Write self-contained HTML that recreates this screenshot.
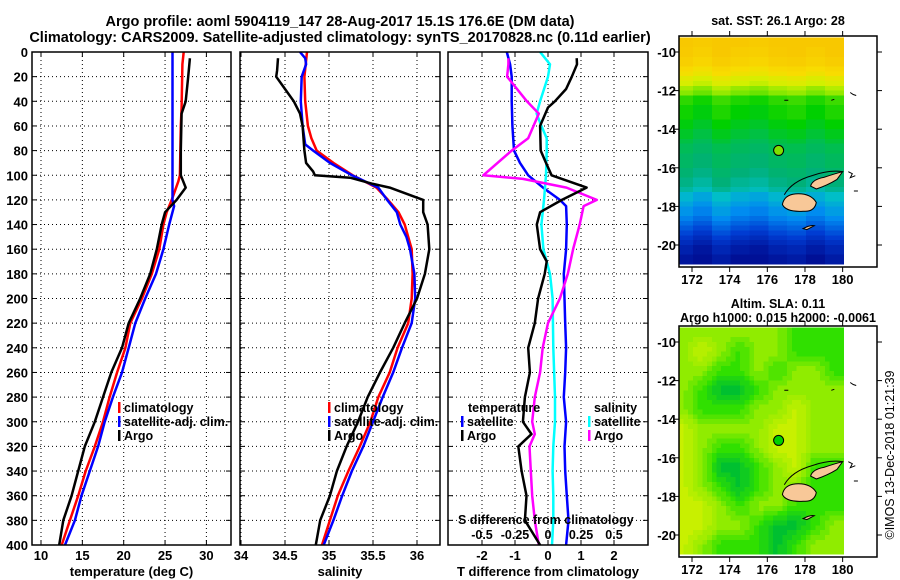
<!DOCTYPE html>
<html><head><meta charset="utf-8">
<style>
html,body{margin:0;padding:0;background:#fff;}
svg{display:block;font-family:"Liberation Sans",sans-serif;font-weight:bold;}
text{fill:#000;}
</style></head>
<body>
<svg id="fig" width="900" height="580" viewBox="0 0 900 580" xmlns="http://www.w3.org/2000/svg">
<text x="340" y="26" font-size="14.5" text-anchor="middle">Argo profile: aoml 5904119_147 28-Aug-2017 15.1S 176.6E (DM data)</text>
<text x="340" y="42" font-size="14.5" text-anchor="middle">Climatology: CARS2009. Satellite-adjusted climatology: synTS_20170828.nc (0.11d earlier)</text>
<g id="g1"></g>
<g id="g2"></g>
<g id="g3"></g>
<g id="m1"></g>
<g id="m2"></g>
<text transform="translate(894,455) rotate(-90)" font-size="12.5" font-weight="normal" text-anchor="middle">©IMOS 13-Dec-2018 01:21:39</text>
</svg>
<script>
// ---- profile data (depth in m) ----
const tempClimDepth = [0,10,45,60,100,105,120,130,140,160,180,200,220,240,260,280,300,320,340,360,380,400];
const tempClim      = [27.25,27.1,27.0,26.9,26.8,26.6,25.8,25.2,24.8,24.3,23.4,22.2,20.8,20.2,19.2,18.3,17.5,16.5,15.4,14.5,13.5,12.5];
const tempSatDepth  = [0,120,125,140,160,180,200,220,240,260,280,300,320,340,360,380,400];
const tempSat       = [25.9,25.9,26.1,25.5,24.8,23.9,22.6,21.4,20.6,19.8,18.7,17.7,16.9,15.9,14.9,14.1,12.9];
const tempArgoDepth = [5,20,40,50,80,100,110,120,130,140,160,180,200,220,240,260,280,300,320,340,360,380,400];
const tempArgo      = [28.0,27.8,27.5,27.0,26.9,26.9,27.5,26.4,25.0,24.6,24.0,23.2,22.0,20.6,19.8,18.5,17.5,16.5,15.3,14.5,13.7,12.7,12.2];

const salClimDepth = [0,20,40,60,70,80,90,100,110,120,130,140,160,180,200,220,240,260,280,300,320,340,360,380,400];
const salClim      = [34.75,34.72,34.73,34.76,34.8,34.86,35.05,35.27,35.54,35.67,35.79,35.86,35.94,35.95,35.94,35.9,35.78,35.69,35.56,35.47,35.35,35.22,35.1,35.01,34.92];
const salSatDepth  = [0,5,10,20,40,60,75,80,90,100,110,120,130,140,150,160,180,200,220,240,260,280,300,320,340,360,380,400];
const salSat       = [34.67,34.73,34.74,34.69,34.68,34.7,34.73,34.82,35.01,35.26,35.56,35.66,35.77,35.81,35.88,35.92,35.97,35.98,35.94,35.83,35.73,35.61,35.5,35.39,35.26,35.15,35.05,34.94];
const salArgoDepth = [5,15,20,30,40,50,60,80,90,97,100,102,107,110,120,130,140,160,180,200,220,240,260,280,300,320,340,360,380,400];
const salArgo      = [34.42,34.41,34.4,34.5,34.6,34.67,34.7,34.72,34.74,34.82,34.84,35.24,35.5,35.69,36.07,36.07,36.12,36.14,36.09,36.0,35.86,35.73,35.58,35.44,35.33,35.2,35.09,35.01,34.9,34.85];

const dTSatDepth  = [0,10,20,40,60,80,90,100,110,120,125,140,160,180,200,220,240,260,280,300,320,340,360,380,400];
const dTSat       = [-1.25,-1.15,-1.1,-1.1,-1.08,-1.03,-0.85,-0.6,-0.15,0.36,0.55,0.57,0.55,0.48,0.5,0.52,0.55,0.52,0.48,0.55,0.5,0.52,0.57,0.62,0.55];
const dTArgoDepth = [5,10,20,30,40,45,60,80,90,100,110,120,130,140,160,170,180,200,220,240,260,280,300,310,320,340,360,380,400];
const dTArgo      = [0.87,0.88,0.72,0.55,0.21,0.0,-0.24,-0.22,-0.06,0.11,1.17,0.42,-0.24,-0.34,-0.24,-0.04,-0.1,-0.3,-0.4,-0.6,-0.55,-0.7,-0.76,-0.5,-0.9,-0.8,-0.65,-0.7,-0.24];
const dSSatDepth  = [0,10,20,40,50,60,70,80,100,120,140,160,180,200,240,280,300,320,340,360,380,400];
const dSSat       = [-0.06,0.015,0.0,-0.06,-0.086,-0.05,-0.01,-0.01,-0.015,-0.03,-0.05,-0.035,0.015,0.035,0.04,0.053,0.053,0.04,0.035,0.04,0.04,0.03];
const dSArgoDepth = [5,10,20,40,50,70,80,100,103,110,120,125,140,160,180,200,220,240,260,280,300,310,320,340,360,380,400];
const dSArgo      = [-0.3,-0.3,-0.31,-0.16,-0.07,-0.15,-0.275,-0.49,-0.19,0.14,0.37,0.27,0.24,0.19,0.15,0.09,0.0,-0.04,-0.06,-0.1,-0.12,-0.1,-0.14,-0.13,-0.12,-0.1,-0.07];

const depthTicks = [0,20,40,60,80,100,120,140,160,180,200,220,240,260,280,300,320,340,360,380,400];
const tempTicks = [10,15,20,25,30];
const salTicks = [34,34.5,35,35.5,36];
const salTickLabels = ["34","34.5","35","35.5","36"];
const dTTicks = [-2,-1,0,1,2];
const dSTicks = [-0.5,-0.25,0,0.25,0.5];
const dSTickLabels = ["-0.5","-0.25","0","0.25","0.5"];

// ---- map data ----
const sstBands = [28.4,28.4,28.3,28.3,28.2,28.2,28.0,27.9,27.7,27.6,27.4,27.3,27.0,27.0,26.9,26.9,26.9,26.8,26.8,26.7,26.7,26.6,26.5,26.5,26.4,26.4,26.4,26.3,26.3,26.2,26.2,26.1,25.9,25.9,25.8,25.7,25.7,25.6,25.5,25.4,25.3,25.2,25.1,25.0,25.0,24.9,24.9];
const sstLonAnom = [0.05,-0.05,0.1,0.0,-0.05,0.05,0.1,0.0,0.1];
const slaGrid = [
 [2,2,2,2,2,2,1,1,1],
 [2,3,2,1,2,2,1,1,1],
 [2,2,1,1,2,1,2,2,1],
 [2,1,0,0,1,2,2,2,2],
 [2,1,1,1,2,2,3,2,2],
 [3,2,2,2,2,3,3,2,2],
 [3,2,1,1,2,3,3,2,2],
 [3,2,0,0,1,2,3,1,1],
 [3,2,1,0,1,2,2,1,1],
 [3,3,2,1,2,2,1,1,1],
 [3,3,2,2,1,0,0,1,2],
 [3,2,1,1,1,0,1,2,2]];
const lonTicks = [172,174,176,178,180];
const latTicks = [-10,-12,-14,-16,-18,-20];
const argoLon = 176.6, argoLat = -15.1;

const NS = "http://www.w3.org/2000/svg";
function mk(tag, attrs, parent){ const e=document.createElementNS(NS,tag); for(const k in attrs) e.setAttribute(k,attrs[k]); parent.appendChild(e); return e; }
function txt(str, attrs, parent){ const e=mk('text',attrs,parent); e.textContent=str; return e; }

const TOP=52, BOT=545;
const yD = d => TOP + d*1.2325;

function panel(g, x0, x1, xs, gridVals, tickVals, tickLabels, title, showDepth){
  mk('rect',{x:x0,y:TOP,width:x1-x0,height:BOT-TOP,fill:'#fff',stroke:'none'},g);
  const grid = mk('g',{stroke:'#000','stroke-width':1,'stroke-dasharray':'1 3',fill:'none'},g);
  
  
  depthTicks.forEach(d=>{ if(d>0&&d<400) mk('line',{x1:x0,x2:x1,y1:yD(d),y2:yD(d)},grid); });
  gridVals.forEach(v=>{ mk('line',{x1:xs(v),x2:xs(v),y1:TOP,y2:BOT},grid); });
  const tk = mk('g',{stroke:'#000','stroke-width':1},g);
  depthTicks.forEach(d=>{ mk('line',{x1:x0,x2:x0+5,y1:yD(d),y2:yD(d)},tk); mk('line',{x1:x1-5,x2:x1,y1:yD(d),y2:yD(d)},tk); });
  gridVals.forEach(v=>{ mk('line',{x1:xs(v),x2:xs(v),y1:BOT,y2:BOT-5},tk); mk('line',{x1:xs(v),x2:xs(v),y1:TOP,y2:TOP+5},tk); });
  tickVals.forEach((v,i)=>{
    const t=txt(tickLabels[i],{x:xs(v),y:560,'font-size':13,'text-anchor':'middle'},g);
    
    
  });
  const tt=txt(title,{x:(x0+x1)/2,y:576,'font-size':13,'text-anchor':'middle'},g);
  
  
  if(showDepth){
    depthTicks.forEach(d=>{
      const t=txt(String(d),{x:28,y:yD(d)+5,'font-size':13,'text-anchor':'end'},g);
      
      
    });
  }
}
function frame(g,x0,x1){
  const f=mk('rect',{x:x0,y:TOP,width:x1-x0,height:BOT-TOP,fill:'none',stroke:'#000','stroke-width':1.5},g);
  
  
}
function line(g, xs, vals, depths, color, name){
  const pts = vals.map((v,i)=>xs(v).toFixed(1)+','+yD(depths[i]).toFixed(1)).join(' ');
  const p=mk('polyline',{points:pts,fill:'none',stroke:color,'stroke-width':2.5,'stroke-linejoin':'round'},g);
  
  
}
function legend(g,x,y,color,label,name){
  mk('rect',{x:x,y:y-10,width:2.5,height:11,fill:color},g);
  const t=txt(label,{x:x+6,y:y,'font-size':12.5},g);
  
  
}

const g1=document.getElementById('g1');
const xT = v => 41 + (v-10)*8.27;
panel(g1,32,231,xT,tempTicks,tempTicks,tempTicks.map(String),'temperature (deg C)',true);
line(g1,xT,tempClim,tempClimDepth,'#ff0000','temp-climatology-line');
line(g1,xT,tempSat,tempSatDepth,'#0000ff','temp-satellite-line');
line(g1,xT,tempArgo,tempArgoDepth,'#000000','temp-argo-line');
legend(g1,118,412,'#ff0000','climatology','legend-climatology');
legend(g1,118,426,'#0000ff','satellite-adj. clim.','legend-satellite');
legend(g1,118,440,'#000000','Argo','legend-argo');
frame(g1,32,231);

const g2=document.getElementById('g2');
const xS = v => 241 + (v-34)*88;
panel(g2,240,440,xS,salTicks,salTicks,salTickLabels,'salinity',false);
line(g2,xS,salClim,salClimDepth,'#ff0000','sal-climatology-line');
line(g2,xS,salSat,salSatDepth,'#0000ff','sal-satellite-line');
line(g2,xS,salArgo,salArgoDepth,'#000000','sal-argo-line');
legend(g2,328,412,'#ff0000','climatology','legend-climatology');
legend(g2,328,426,'#0000ff','satellite-adj. clim.','legend-satellite');
legend(g2,328,440,'#000000','Argo','legend-argo');
frame(g2,240,440);

const g3=document.getElementById('g3');
const xDT = v => 548 + v*33;
const xDS = v => 548 + v*132;
panel(g3,448,648,xDT,dTTicks,dTTicks,dTTicks.map(String),'T difference from climatology',false);
line(g3,xDT,dTSat,dTSatDepth,'#0000ff','dT-satellite-line');
line(g3,xDS,dSSat,dSSatDepth,'#00ffff','dS-satellite-line');
line(g3,xDS,dSArgo,dSArgoDepth,'#ff00ff','dS-argo-line');
line(g3,xDT,dTArgo,dTArgoDepth,'#000000','dT-argo-line');
let t3=txt('temperature',{x:468,y:412,'font-size':12.5},g3);


legend(g3,461,426,'#0000ff','satellite','legend-t-satellite');
legend(g3,461,440,'#000000','Argo','legend-t-argo');
t3=txt('salinity',{x:594,y:412,'font-size':12.5},g3);


legend(g3,588,426,'#00ffff','satellite','legend-s-satellite');
legend(g3,588,440,'#ff00ff','Argo','legend-s-argo');
t3=txt('S difference from climatology',{x:458,y:524,'font-size':12.5},g3);


dSTicks.forEach((v,i)=>{
  const t=txt(dSTickLabels[i],{x:xDS(v),y:539,'font-size':12.5,'text-anchor':'middle'},g3);
  
  
});
frame(g3,448,648);

const mxL = lon => 692 + (lon-172)*18.83;
function sstColor(v){
  const stops=[[24.9,[0,16,150]],[25.3,[0,60,210]],[25.7,[0,140,240]],[26.0,[0,190,200]],[26.3,[0,176,120]],[26.6,[0,190,80]],[26.9,[0,208,0]],[27.3,[120,230,0]],[27.6,[210,240,0]],[28.0,[248,220,0]],[28.4,[248,200,0]]];
  if(v<=stops[0][0]) return 'rgb('+stops[0][1]+')';
  for(let i=1;i<stops.length;i++){ if(v<=stops[i][0]){ const a=stops[i-1],b=stops[i],f=(v-a[0])/(b[0]-a[0]); return 'rgb('+a[1].map((c,k)=>Math.round(c+(b[1][k]-c)*f)).join(',')+')'; } }
  return 'rgb('+stops[stops.length-1][1]+')';
}
const slaCols=[[0,192,48],[48,224,0],[144,236,0],[200,240,0]];
function slaColor(v){ const i=Math.min(2,Math.floor(v)),f=v-i; return 'rgb('+slaCols[i].map((c,k)=>Math.round(c+(slaCols[i+1][k]-c)*f)).join(',')+')'; }

function drawMap(g, top, bot, y10, y20, title1, title2, kind){
  const myL = lat => y10 + (-10-lat)*(y20-y10)/10;
  mk('rect',{x:679,y:top,width:198,height:bot-top,fill:'#fff'},g);
  const cells=mk('g',{'shape-rendering':'crispEdges'},g);
  
  
  for(let r=0;r<47;r++){
    const la0 = -9.25 - r*0.25;
    for(let c=0;c<35;c++){
      const lo0 = 171.3 + c*0.25;
      let col;
      if(kind==='sst'){
        const ci=Math.min(8,Math.max(0,Math.floor(lo0-171)));
        col=sstColor(sstBands[r]+sstLonAnom[ci]);
      } else {
        const fr = Math.min(11,Math.max(0,(-9.5-(la0-0.125)))), fc=Math.min(8,Math.max(0,lo0+0.125-171.5));
        const r0=Math.floor(fr),c0=Math.floor(fc),r1=Math.min(11,r0+1),c1=Math.min(8,c0+1),a=fr-r0,b=fc-c0;
        const v=slaGrid[r0][c0]*(1-a)*(1-b)+slaGrid[r1][c0]*a*(1-b)+slaGrid[r0][c1]*(1-a)*b+slaGrid[r1][c1]*a*b;
        col=slaColor(Math.round(v*3)/3);
      }
      const x0=Math.max(679,mxL(lo0)), x1=Math.min(mxL(180.05),mxL(lo0+0.25));
      const y0=Math.max(top,myL(la0)), y1=Math.min(bot,myL(la0-0.25));
      if(x1>x0&&y1>y0) mk('rect',{x:x0.toFixed(2),y:y0.toFixed(2),width:(x1-x0+0.3).toFixed(2),height:(y1-y0+0.3).toFixed(2),fill:col},cells);
    }
  }
  const land=mk('g',{fill:'#f8c898',stroke:'#000','stroke-width':1},g);
  
  
  const P=(lo,la)=>mxL(lo).toFixed(1)+','+myL(la).toFixed(1);
  mk('path',{d:'M'+P(176.8,-17.9)+' Q'+P(176.9,-17.4)+' '+P(177.5,-17.35)+' Q'+P(178.3,-17.3)+' '+P(178.6,-17.8)+' Q'+P(178.5,-18.3)+' '+P(177.9,-18.25)+' Q'+P(177.0,-18.3)+' '+P(176.8,-17.9)+'Z'},land);
  mk('path',{d:'M'+P(178.3,-16.95)+' Q'+P(178.4,-16.6)+' '+P(179.0,-16.5)+' Q'+P(179.6,-16.3)+' '+P(180,-16.2)+' L'+P(179.7,-16.6)+' Q'+P(179.2,-16.9)+' '+P(178.6,-17.1)+'Z'},land);
  mk('path',{d:'M'+P(177.9,-19.15)+' Q'+P(178.3,-18.95)+' '+P(178.5,-19.0)+' L'+P(178.1,-19.2)+'Z'},land);
  mk('path',{d:'M'+P(176.9,-17.4)+' Q'+P(177.3,-16.7)+' '+P(178.4,-16.4)+' Q'+P(179.3,-16.1)+' '+P(180,-16.2),fill:'none',stroke:'#000','stroke-width':1},g);
  mk('path',{d:'M'+P(180.3,-16.2)+' l4,2 l-2,4 l5,-2 M'+P(180.6,-17.2)+' l4,0 M'+P(180.4,-12.1)+' l3,2 l3,1 M'+P(176.9,-12.5)+' l4,0 M'+P(179.4,-12.5)+' l3,-1',fill:'none',stroke:'#000','stroke-width':1},g);
  const dot=mk('circle',{cx:mxL(argoLon),cy:myL(argoLat),r:5,fill:kind==='sst'?'#80e000':'#00d000',stroke:'#000','stroke-width':1},g);
  
  
  const fr=mk('rect',{x:679,y:top,width:198,height:bot-top,fill:'none',stroke:'#000','stroke-width':1.5},g);
  
  
  const tg=mk('g',{stroke:'#000','stroke-width':1},g);
  lonTicks.forEach(lo=>{ mk('line',{x1:mxL(lo),x2:mxL(lo),y1:bot,y2:bot+5},tg); mk('line',{x1:mxL(lo),x2:mxL(lo),y1:top,y2:top-5},tg);
    const t=txt(String(lo),{x:mxL(lo),y:bot+17,'font-size':13,'text-anchor':'middle'},g);
    
    
  });
  latTicks.forEach(la=>{ mk('line',{x1:679,x2:674,y1:myL(la),y2:myL(la)},tg); mk('line',{x1:877,x2:882,y1:myL(la),y2:myL(la)},tg);
    const t=txt(String(la),{x:676,y:myL(la)+5,'font-size':13,'text-anchor':'end'},g);
    
    
  });
  let t=txt(title1,{x:778,y:title2?top-18:top-11,'font-size':12.5,'text-anchor':'middle'},g);
  
  
  if(title2){ t=txt(title2,{x:778,y:top-4,'font-size':12.5,'text-anchor':'middle'},g);
    
     }
}
drawMap(document.getElementById('m1'),36,267,52,245,'sat. SST: 26.1 Argo: 28',null,'sst');
drawMap(document.getElementById('m2'),326,557,342,535,'Altim. SLA: 0.11','Argo h1000: 0.015 h2000: -0.0061','sla');
</script>
</body></html>
